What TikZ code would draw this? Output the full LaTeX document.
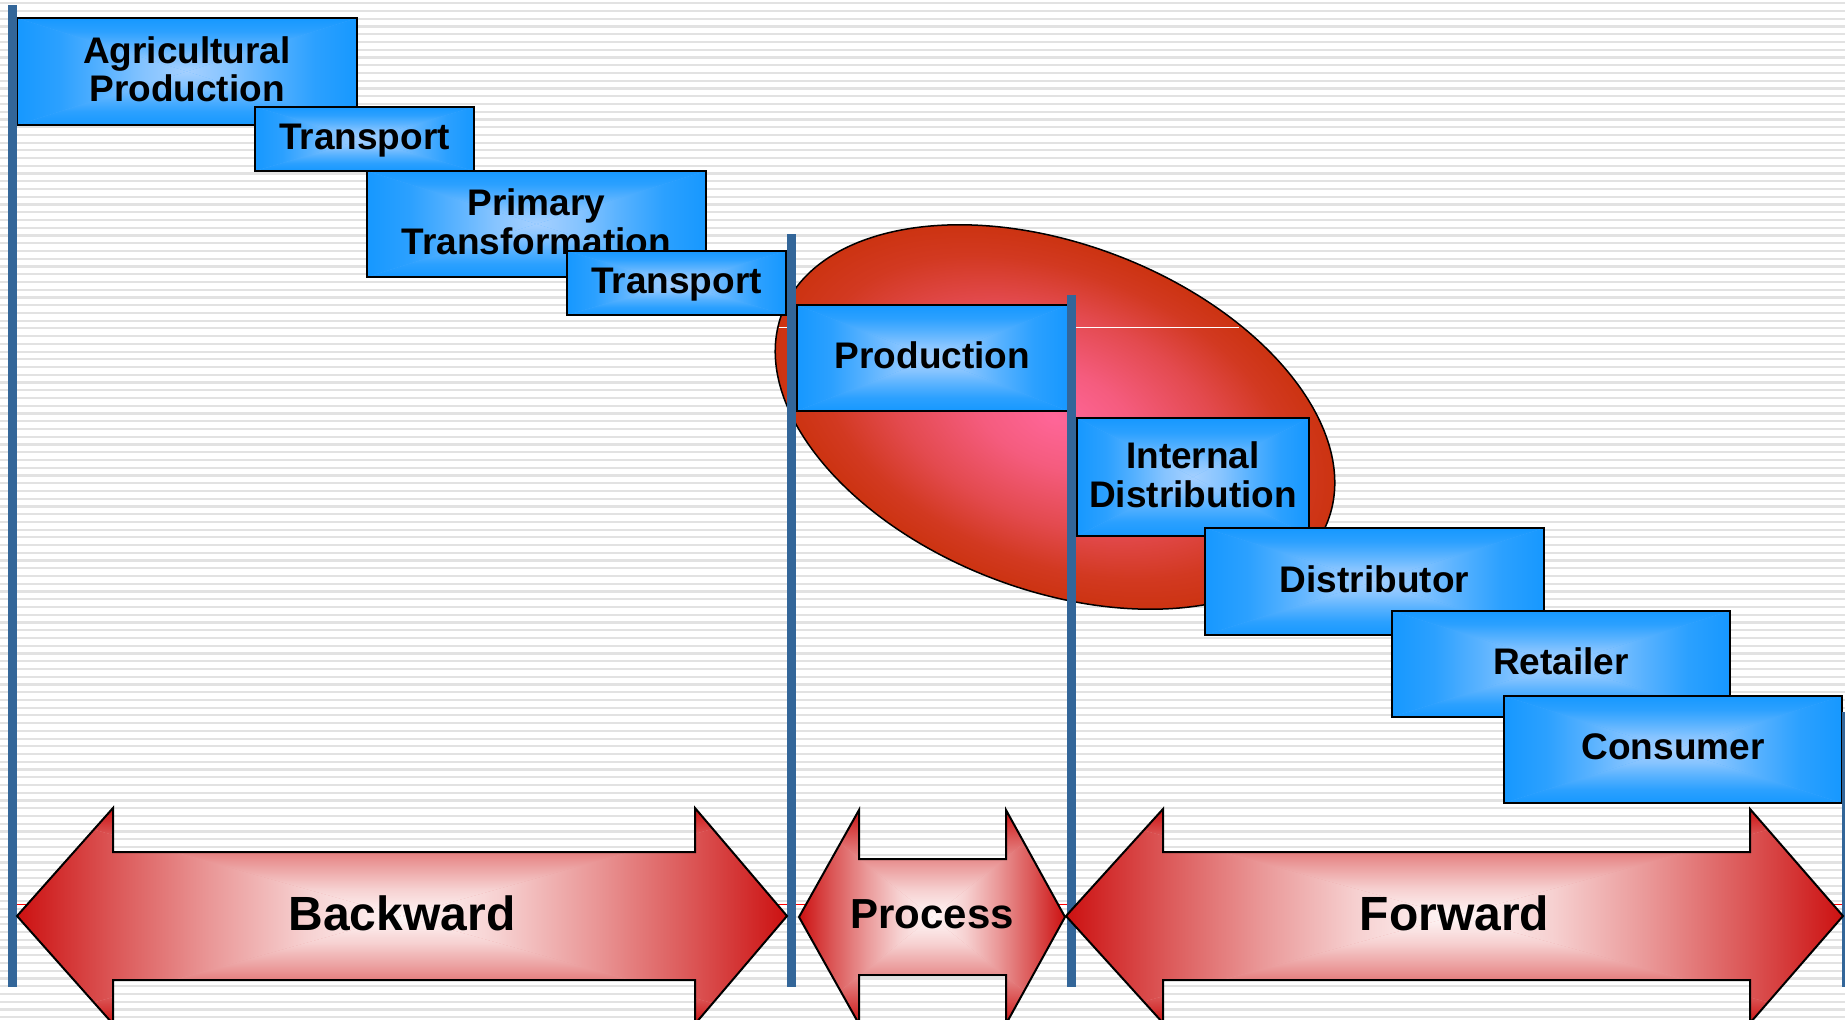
\documentclass[tikz,border=0pt]{standalone}
\usepackage{fontspec}
\setmainfont{Liberation Sans}
\definecolor{bedge}{RGB}{22,152,255}
\definecolor{bcent}{RGB}{165,208,255}
\colorlet{bq1}{bedge!85!bcent}
\colorlet{bq2}{bedge!55!bcent}
\colorlet{bq3}{bedge!22!bcent}
\colorlet{bmid}{bedge!60!bcent}
\definecolor{ared}{RGB}{204,17,17}
\definecolor{acent}{RGB}{255,248,248}
\colorlet{aq1}{ared!70!acent}
\colorlet{aq2}{ared!42!acent}
\colorlet{aq3}{ared!17!acent}
\colorlet{amid}{ared!40!acent}
\definecolor{epink}{RGB}{255,102,153}
\definecolor{ered}{RGB}{204,51,17}
\colorlet{eq1}{epink!80!ered}
\colorlet{eq2}{epink!45!ered}
\colorlet{eq3}{epink!12!ered}
\definecolor{barcol}{RGB}{51,102,153}
\definecolor{stripecol}{RGB}{226,226,226}

\pgfdeclarehorizontalshading{bluesh}{100bp}{color(0bp)=(bedge); color(25bp)=(bedge); color(37.5bp)=(bq1); color(50bp)=(bq2); color(62.5bp)=(bq3); color(75bp)=(bcent); color(100bp)=(bcent)}
\pgfdeclarehorizontalshading{redsh}{100bp}{color(0bp)=(ared); color(25bp)=(ared); color(37.5bp)=(aq1); color(50bp)=(aq2); color(62.5bp)=(aq3); color(75bp)=(acent); color(100bp)=(acent)}
\pgfdeclareradialshading{ellsh}{\pgfpointorigin}{color(0bp)=(epink); color(7bp)=(eq1); color(15bp)=(eq2); color(21bp)=(eq3); color(25bp)=(ered); color(50bp)=(ered)}

\tikzset{
  boxnode/.style={draw=black, line width=2pt, inner sep=0pt, outer sep=0pt, align=center,
    font=\bfseries\fontsize{37}{38.5}\selectfont},
  arrtext/.style={inner sep=0pt, font=\bfseries\fontsize{48}{50}\selectfont},
  arrline/.style={draw=black, line width=2pt, line join=miter},
  vbar/.style={fill=barcol},
  stripeln/.style={draw=stripecol, line width=2.2pt},
}

% rectangular path gradient: x0 y0 x1 y1 shading midcolour
\newcommand\rectgrad[6]{%
  \pgfmathsetmacro\rgcx{(#1+#3)/2}%
  \pgfmathsetmacro\rgcy{(#2+#4)/2}%
  \fill[#6] (#1,#2) rectangle (#3,#4);
  \shade[shading=#5,shading angle=0] (#1,#2) -- (\rgcx,\rgcy) -- (#1,#4) -- cycle;
  \shade[shading=#5,shading angle=180] (#3,#2) -- (\rgcx,\rgcy) -- (#3,#4) -- cycle;
  \shade[shading=#5,shading angle=270] (#1,#2) -- (\rgcx,\rgcy) -- (#3,#2) -- cycle;
  \shade[shading=#5,shading angle=90] (#1,#4) -- (\rgcx,\rgcy) -- (#3,#4) -- cycle;
}

% blue box: name x0 y0 x1 y1 text textshift(up, pt)
\newcommand\gbox[7]{%
  \rectgrad{#2}{#3}{#4}{#5}{bluesh}{bmid}
  \pgfmathsetmacro\gbw{#4-#2}%
  \pgfmathsetmacro\gbh{#5-#3}%
  \node[boxnode, minimum width=\gbw pt, minimum height=\gbh pt] (#1) at ({(#2+#4)/2},{(#3+#5)/2}) {};
  \node[inner sep=0pt, align=center, font=\bfseries\fontsize{37}{38.5}\selectfont, yshift=#7pt] (#1-t) at (#1.center) {#6};
}

% double arrow: name tipL hbL hbR tipR cy shafthalf headhalf text
\newcommand\dblarrow[9]{%
  \begin{scope}
    \clip ({#2},{#6}) -- ({#3},{#6-#8}) -- ({#3},{#6-#7}) -- ({#4},{#6-#7}) -- ({#4},{#6-#8}) -- ({#5},{#6})
      -- ({#4},{#6+#8}) -- ({#4},{#6+#7}) -- ({#3},{#6+#7}) -- ({#3},{#6+#8}) -- cycle;
    \rectgrad{#2}{#6-#8}{#5}{#6+#8}{redsh}{amid}
  \end{scope}
  \path[arrline] ({#2},{#6}) -- ({#3},{#6-#8}) -- ({#3},{#6-#7}) -- ({#4},{#6-#7}) -- ({#4},{#6-#8}) -- ({#5},{#6})
      -- ({#4},{#6+#8}) -- ({#4},{#6+#7}) -- ({#3},{#6+#7}) -- ({#3},{#6+#8}) -- cycle;
  \node[arrtext] (#1) at ({(#2+#5)/2},{#6-3}) {#9};
}

\begin{document}
\begin{tikzpicture}[x=1pt,y=-1pt]
\useasboundingbox (0,0) rectangle (1845,1020);
\fill[white] (0,0) rectangle (1845,1020);
\foreach \i in {0,...,131} \draw[stripeln] (0,{3.3+7.74*\i}) -- (1845,{3.3+7.74*\i});

% ellipse
\begin{scope}[transform canvas={shift={(1055,417)},rotate=-20.85}]
  \shade[shading=ellsh] (0,0) ellipse [x radius=292, y radius=173];
  \draw[black, line width=1.5pt] (0,0) ellipse [x radius=292, y radius=173];
\end{scope}
\draw[white, line width=1pt] (779,327) -- (1239,327);
\draw[red, line width=1pt] (16,904) -- (1843,904);

% boxes
\gbox{agri}{17}{18}{357}{125}{Agricultural\\Production}{2.4}
\gbox{trone}{255}{107}{474}{171}{Transport}{-1.2}
\gbox{prim}{367}{171}{706}{277}{Primary\\Transformation}{2.4}
\gbox{trtwo}{567}{251}{786}{315}{Transport}{-1.2}
\gbox{prod}{797}{305}{1068}{411}{Production}{2.4}
\gbox{intd}{1077}{418}{1309}{536}{Internal\\Distribution}{2.4}
\gbox{dist}{1205}{528}{1544}{635}{Distributor}{2.4}
\gbox{ret}{1392}{611}{1730}{717}{Retailer}{2.4}
\gbox{cons}{1504}{696}{1842}{803}{Consumer}{2.4}

% vertical bars
\fill[vbar] (8,5) rectangle (17,987);
\fill[vbar] (787,234) rectangle (796,987);
\fill[vbar] (1067,295) rectangle (1076,987);
\fill[vbar] (1842,712) rectangle (1851,987);

% arrows
\dblarrow{back}{17}{113}{695}{787}{916}{64}{108}{Backward}
\dblarrow{proc}{799}{859}{1006}{1065}{917}{58}{107}{\fontsize{42}{44}\selectfont Process}
\dblarrow{fwd}{1066}{1163}{1750}{1843}{916}{64}{107}{Forward}
\end{tikzpicture}
\end{document}
